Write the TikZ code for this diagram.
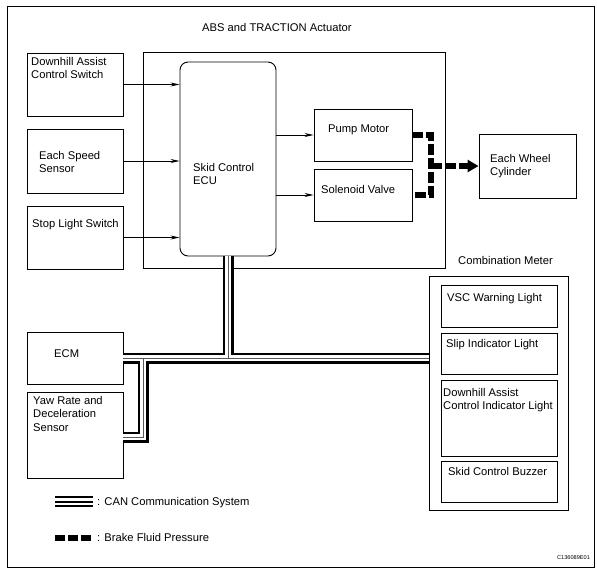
\documentclass[tikz,border=0pt]{standalone}
\usepackage{fontspec}
\setmainfont{Liberation Sans}
\usetikzlibrary{arrows.meta}
\begin{document}
\begin{tikzpicture}[x=1pt,y=-1pt,
  bx/.style 2 args={draw, line width=0.9pt, inner sep=0, minimum width=#1, minimum height=#2},
  txt/.style={anchor=north west, inner sep=0, align=left, yshift=9.45pt,
    font=\fontsize{11.2}{13.5}\selectfont},
  arr/.style={line width=0.8pt, -{Stealth[length=9pt,width=4pt]}},
  fluid/.style={line width=5.5pt, dash pattern=on 11pt off 3pt},
  canA/.style={line width=11pt, black},
  canB/.style={line width=5.4pt, white},
  canC/.style={line width=0.8pt, black!65},
]
\useasboundingbox (0,0) rectangle (597,571);
\draw[line width=1pt] (7,6) rectangle (594,567);

% boxes
\node[bx={302}{216}] (act) at (294,160) {};
\node[bx={96}{63}] (dacs) at (75,84.5) {};
\node[bx={96}{64}] (ess) at (75,161) {};
\node[bx={96}{63}] (sls) at (75,237.5) {};
\node[bx={96}{194}, rounded corners=8pt] (ecu) at (228,159) {};
\node[bx={98}{52}] (pump) at (363,135) {};
\node[bx={98}{52}] (sol) at (363,195) {};
\node[bx={97}{64}] (ewc) at (527.5,166) {};
\node[bx={96}{52}] (ecm) at (75,358) {};
\node[bx={96}{86}] (yaw) at (75,435) {};
\node[bx={139}{234}] (cm) at (498.5,393) {};
\node[bx={116}{42}] (vsc) at (499,306) {};
\node[bx={116}{41}] (slip) at (499,353.5) {};
\node[bx={116}{76}] (daci) at (499,418) {};
\node[bx={116}{41}] (buzz) at (499,481.5) {};

% texts
\node[txt] (tact) at (202,31) {\strut ABS and TRACTION Actuator};
\node[txt] (tdacs) at (31,65) {\strut Downhill Assist\\Control Switch};
\node[txt] (tess) at (39,159) {\strut Each Speed\\Sensor};
\node[txt] (tsls) at (32,227) {\strut Stop Light Switch};
\node[txt] (tecu) at (193,171) {\strut Skid Control\\ECU};
\node[txt] (tpump) at (328,132) {\strut Pump Motor};
\node[txt] (tsol) at (321,193) {\strut Solenoid Valve};
\node[txt] (tewc) at (490,162) {\strut Each Wheel\\Cylinder};
\node[txt] (tcm) at (458,264) {\strut Combination Meter};
\node[txt] (tvsc) at (447,301) {\strut VSC Warning Light};
\node[txt] (tslip) at (446,347) {\strut Slip Indicator Light};
\node[txt] (tdaci) at (443,396) {\strut Downhill Assist\\Control Indicator Light};
\node[txt] (tbuzz) at (448,475) {\strut Skid Control Buzzer};
\node[txt] (tecm) at (54,357) {\strut ECM};
\node[txt] (tyaw) at (33,404) {\strut Yaw Rate and\\Deceleration\\Sensor};

% signal arrows
\draw[arr] (dacs.east) -- (dacs.east -| ecu.west);
\draw[arr] (ess.east) -- (ess.east -| ecu.west);
\draw[arr] (sls.east) -- (sls.east -| ecu.west);
\draw[arr] (pump.west -| ecu.east) -- (pump.west);
\draw[arr] (sol.west -| ecu.east) -- (sol.west);

% brake fluid pressure
\coordinate (jx) at (431,166);
\draw[fluid] (pump.east) -- (pump.east -| jx) -- (sol.east -| jx) -- (sol.east);
\draw[fluid, -{Triangle[length=11pt,width=12pt]}] (jx) -- (ewc.west);

% CAN bus
\coordinate (j1) at (ecu.south |- ecm.east);
\coordinate (j2) at (143,358);
\coordinate (j3) at (143,437);
\foreach \s in {canA,canB,canC}
  \draw[\s] (ecu.south) -- (j1) (ecm.east) -- (ecm.east -| cm.west)
    (j2) -- (j3) -- (j3 -| yaw.east);

% legend
\draw[line width=2.4pt] (55,497) -- (93,497) (55,501.8) -- (93,501.8) (55,506.2) -- (93,506.2);
\node[txt] (lcan) at (97,505) {\strut : CAN Communication System};
\draw[line width=6pt, dash pattern=on 10pt off 3pt] (55,538) -- (92,538);
\node[txt] (lbfp) at (97,541) {\strut : Brake Fluid Pressure};
\node[anchor=base west, inner sep=0, font=\fontsize{5.6}{6}\selectfont] (code) at (557,559) {C136089E01};
\end{tikzpicture}
\end{document}
